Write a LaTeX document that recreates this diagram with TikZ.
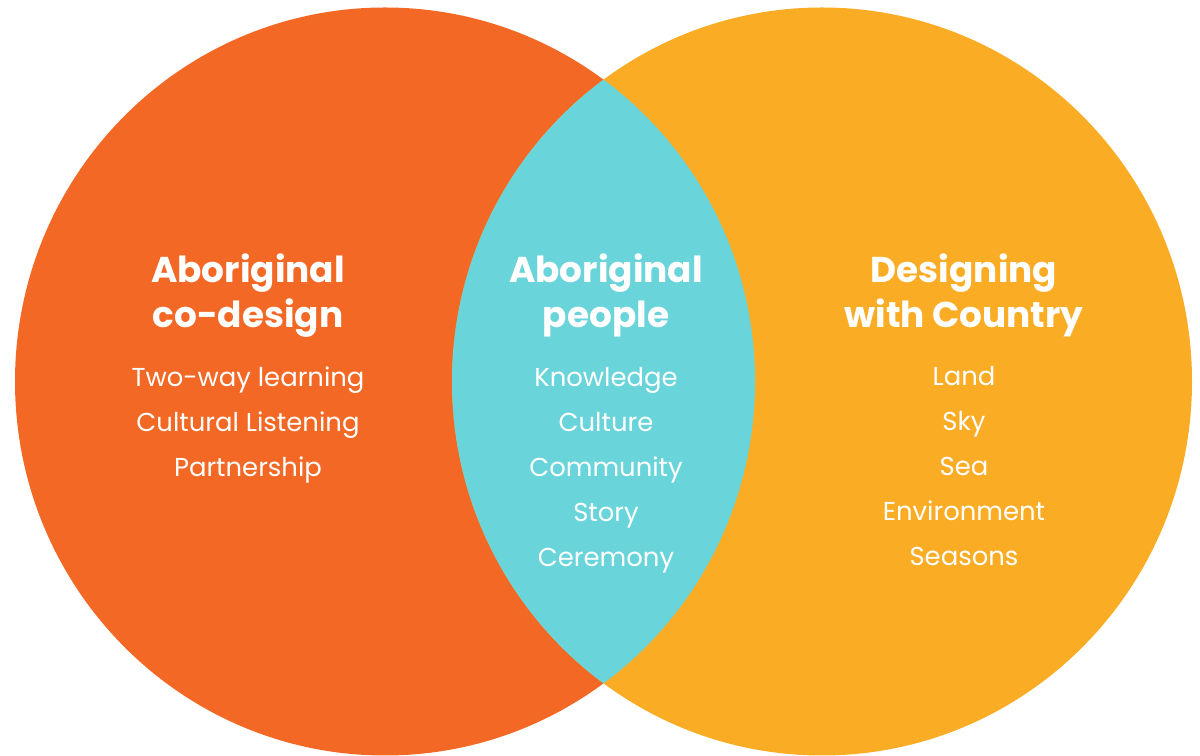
\documentclass[tikz,border=0pt]{standalone}
\usepackage{fontspec}
\setmainfont{Poppins}
\newfontfamily\lightfont{Poppins}
\definecolor{codesign}{HTML}{F26824}
\definecolor{country}{HTML}{FBAC25}
\definecolor{people}{HTML}{69D4DA}
\begin{document}
\begin{tikzpicture}[x=1bp,y=1bp,
		title/.style={anchor=base,text=white,font=\fontsize{36}{44}\selectfont\bfseries},
		item/.style={anchor=base,text=white,font=\lightfont\fontsize{26}{32}\selectfont}]
	\def\cy{374.5}
	\def\rx{370}
	\def\ry{374}
	\useasboundingbox (0,0) rectangle (1200,756);
	%Two circles
	\fill[codesign] (385,\cy) ellipse [x radius=\rx, y radius=\ry];
	\fill[country] (822,\cy) ellipse [x radius=\rx, y radius=\ry];
	%Overlap
	\begin{scope}
		\clip (385,\cy) ellipse [x radius=\rx, y radius=\ry];
		\fill[people] (822,\cy) ellipse [x radius=\rx, y radius=\ry];
	\end{scope}
	%Left column
	\node[title] (codesignA) at (248,473) {Aboriginal};
	\node[title] (codesignB) at (248,428) {co-design};
	\node[item] (twoway) at (248,369) {Two-way learning};
	\node[item] (listening) at (248,324) {Cultural Listening};
	\node[item] (partnership) at (248,279) {Partnership};
	%Middle column
	\node[title] (peopleA) at (606,473) {Aboriginal};
	\node[title] (peopleB) at (606,428) {people};
	\node[item] (knowledge) at (606,369) {Knowledge};
	\node[item] (culture) at (606,324) {Culture};
	\node[item] (community) at (606,279) {Community};
	\node[item] (story) at (606,234) {Story};
	\node[item] (ceremony) at (606,189) {Ceremony};
	%Right column
	\node[title] (countryA) at (964,473) {Designing};
	\node[title] (countryB) at (964,428) {with Country};
	\node[item] (land) at (964,370) {Land};
	\node[item] (sky) at (964,325) {Sky};
	\node[item] (sea) at (964,280) {Sea};
	\node[item] (environment) at (964,235) {Environment};
	\node[item] (seasons) at (964,190) {Seasons};
\end{tikzpicture}
\end{document}
